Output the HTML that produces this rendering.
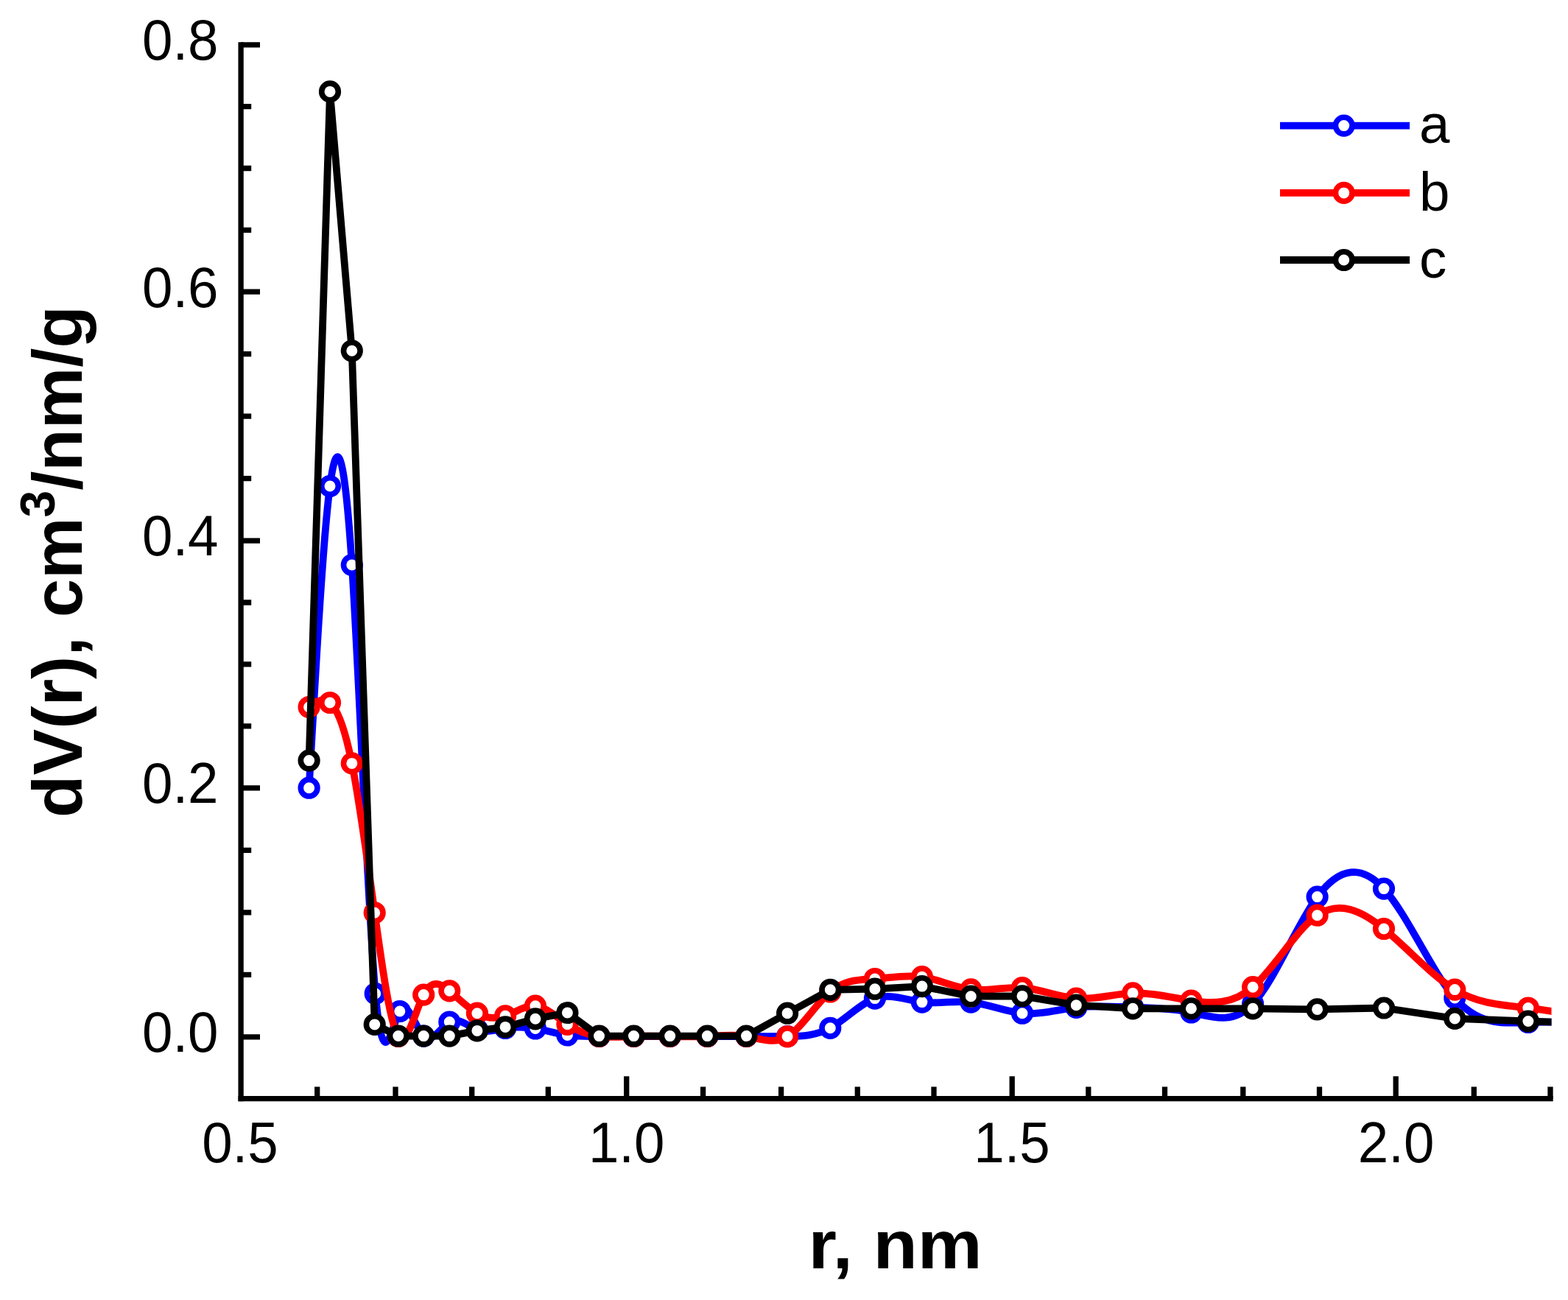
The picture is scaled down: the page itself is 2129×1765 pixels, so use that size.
<!DOCTYPE html>
<html lang="en"><head><meta charset="utf-8"><title>dV(r) vs r</title>
<style>
html,body{margin:0;padding:0;background:#fff;width:2129px;height:1765px;}
body{overflow:hidden;}
svg{display:block;}
text{font-family:"Liberation Sans",sans-serif;fill:#000;}
.tk{font-size:74.5px;}
.tt{font-size:94px;font-weight:bold;}
.ax{stroke:#000;stroke-width:7.3;fill:none;stroke-linecap:butt;}
.ln{fill:none;stroke-width:9.8;stroke-linejoin:round;stroke-linecap:butt;}
.mk{fill:#fff;stroke-width:7.6;}
</style></head><body>
<svg width="2129" height="1765" viewBox="0 0 2129 1765" role="img" aria-label="Pore size distribution dV(r) versus r for samples a, b and c">
<rect x="0" y="0" width="2129" height="1765" fill="#fff"/>
<defs><clipPath id="pc"><rect x="0" y="0" width="2106.5" height="1765"/></clipPath></defs>
<g id="series-a" stroke="#0000ff" clip-path="url(#pc)">
<path class="ln" d="M419.6 1069.7C429.1 901 438.5 732.2 448 660C457.9 584.2 467.9 614.8 477.8 767C488.4 930 499.1 1232.4 509.7 1349C520.7 1470 531.8 1391 542.8 1373C553.6 1355.3 564.4 1396.1 575.2 1406.6C586.9 1418 598.6 1394 610.3 1387.5C622.8 1380.5 635.4 1393.6 647.9 1398C660.6 1402.5 673.4 1398.1 686.1 1396C699.7 1393.8 713.3 1394.2 726.9 1396.5C741.4 1398.9 755.9 1403.4 770.4 1405.5C784.8 1407.5 799.1 1407.1 813.5 1407C829.2 1406.8 844.8 1407 860.5 1407C876.9 1407 893.3 1407 909.7 1407C926.6 1407 943.5 1407 960.4 1407C978.1 1407 995.8 1407 1013.5 1407C1032 1407 1050.6 1407.1 1069.1 1407C1088.5 1406.9 1107.9 1406.4 1127.3 1395.8C1147.5 1384.7 1167.7 1362.5 1187.9 1355.6C1209.2 1348.3 1230.6 1358 1251.9 1360.6C1274 1363.3 1296.2 1358.3 1318.3 1360.6C1341.5 1363.1 1364.8 1373.6 1388 1375.7C1412.4 1377.9 1436.9 1370.7 1461.3 1367.8C1486.9 1364.8 1512.5 1366.5 1538.1 1367.5C1564.5 1368.6 1591 1368.9 1617.4 1374.5C1645.3 1380.4 1673.2 1392.2 1701.1 1363C1730.3 1332.5 1759.4 1257.3 1788.6 1217.6C1818.7 1176.6 1848.9 1173.5 1879 1206.6C1911.1 1241.8 1943.2 1318.1 1975.3 1355C2008.5 1393.2 2041.7 1389.2 2074.9 1388C2109.3 1386.7 2143.6 1388.4 2178 1390"/>
<circle class="mk" cx="419.6" cy="1069.7" r="11.3"/>
<circle class="mk" cx="448" cy="660" r="11.3"/>
<circle class="mk" cx="477.8" cy="767" r="11.3"/>
<circle class="mk" cx="509.7" cy="1349" r="11.3"/>
<circle class="mk" cx="542.8" cy="1373" r="11.3"/>
<circle class="mk" cx="575.2" cy="1406.6" r="11.3"/>
<circle class="mk" cx="610.3" cy="1387.5" r="11.3"/>
<circle class="mk" cx="647.9" cy="1398" r="11.3"/>
<circle class="mk" cx="686.1" cy="1396" r="11.3"/>
<circle class="mk" cx="726.9" cy="1396.5" r="11.3"/>
<circle class="mk" cx="770.4" cy="1405.5" r="11.3"/>
<circle class="mk" cx="813.5" cy="1407" r="11.3"/>
<circle class="mk" cx="860.5" cy="1407" r="11.3"/>
<circle class="mk" cx="909.7" cy="1407" r="11.3"/>
<circle class="mk" cx="960.4" cy="1407" r="11.3"/>
<circle class="mk" cx="1013.5" cy="1407" r="11.3"/>
<circle class="mk" cx="1069.1" cy="1407" r="11.3"/>
<circle class="mk" cx="1127.3" cy="1395.8" r="11.3"/>
<circle class="mk" cx="1187.9" cy="1355.6" r="11.3"/>
<circle class="mk" cx="1251.9" cy="1360.6" r="11.3"/>
<circle class="mk" cx="1318.3" cy="1360.6" r="11.3"/>
<circle class="mk" cx="1388" cy="1375.7" r="11.3"/>
<circle class="mk" cx="1461.3" cy="1367.8" r="11.3"/>
<circle class="mk" cx="1538.1" cy="1367.5" r="11.3"/>
<circle class="mk" cx="1617.4" cy="1374.5" r="11.3"/>
<circle class="mk" cx="1701.1" cy="1363" r="11.3"/>
<circle class="mk" cx="1788.6" cy="1217.6" r="11.3"/>
<circle class="mk" cx="1879" cy="1206.6" r="11.3"/>
<circle class="mk" cx="1975.3" cy="1355" r="11.3"/>
<circle class="mk" cx="2074.9" cy="1388" r="11.3"/>
</g>
<g id="series-b" stroke="#ff0000" clip-path="url(#pc)">
<path class="ln" d="M419.6 960C429.1 953 438.5 946 448 954C457.9 962.4 467.9 987.2 477.8 1036.4C488.1 1087.4 498.4 1164.7 508.7 1239.3C519.4 1316.8 530.1 1391.4 540.8 1407C552.3 1423.7 563.7 1372.7 575.2 1350.6C586.9 1328 598.6 1335.5 610.3 1345.3C622.8 1355.7 635.4 1368.8 647.9 1375.7C660.6 1382.8 673.4 1383.5 686.1 1379.3C699.7 1374.8 713.3 1364.5 726.9 1365.7C741.4 1367 755.9 1381.2 770.4 1390.8C784.8 1400.3 799.1 1405.1 813.5 1407C829.2 1409.1 844.8 1407.6 860.5 1407C876.9 1406.4 893.3 1406.7 909.7 1407C926.6 1407.4 943.5 1407.8 960.4 1407C978.1 1406.2 995.8 1404.1 1013.5 1407C1032 1410 1050.6 1418.4 1069.1 1407.3C1088.5 1395.7 1107.9 1362.8 1127.3 1346.5C1147.5 1329.5 1167.7 1330.5 1187.9 1329C1209.2 1327.4 1230.6 1323.1 1251.9 1326.2C1274 1329.5 1296.2 1340.8 1318.3 1343.4C1341.5 1346.2 1364.8 1339.4 1388 1341C1412.4 1342.7 1436.9 1353.8 1461.3 1355.6C1486.9 1357.5 1512.5 1349.3 1538.1 1348.4C1564.5 1347.5 1591 1354.4 1617.4 1358.5C1645.3 1362.9 1673.2 1364.1 1701.1 1340.2C1730.3 1315.2 1759.4 1262.6 1788.6 1242.7C1818.7 1222.2 1848.9 1236.6 1879 1261C1911.1 1287 1943.2 1324.2 1975.3 1343.6C2008.5 1363.7 2041.7 1364.7 2074.9 1368.5C2109.3 1372.4 2143.6 1379.2 2178 1386"/>
<circle class="mk" cx="419.6" cy="960" r="11.3"/>
<circle class="mk" cx="448" cy="954" r="11.3"/>
<circle class="mk" cx="477.8" cy="1036.4" r="11.3"/>
<circle class="mk" cx="508.7" cy="1239.3" r="11.3"/>
<circle class="mk" cx="540.8" cy="1407" r="11.3"/>
<circle class="mk" cx="575.2" cy="1350.6" r="11.3"/>
<circle class="mk" cx="610.3" cy="1345.3" r="11.3"/>
<circle class="mk" cx="647.9" cy="1375.7" r="11.3"/>
<circle class="mk" cx="686.1" cy="1379.3" r="11.3"/>
<circle class="mk" cx="726.9" cy="1365.7" r="11.3"/>
<circle class="mk" cx="770.4" cy="1390.8" r="11.3"/>
<circle class="mk" cx="813.5" cy="1407" r="11.3"/>
<circle class="mk" cx="860.5" cy="1407" r="11.3"/>
<circle class="mk" cx="909.7" cy="1407" r="11.3"/>
<circle class="mk" cx="960.4" cy="1407" r="11.3"/>
<circle class="mk" cx="1013.5" cy="1407" r="11.3"/>
<circle class="mk" cx="1069.1" cy="1407.3" r="11.3"/>
<circle class="mk" cx="1127.3" cy="1346.5" r="11.3"/>
<circle class="mk" cx="1187.9" cy="1329" r="11.3"/>
<circle class="mk" cx="1251.9" cy="1326.2" r="11.3"/>
<circle class="mk" cx="1318.3" cy="1343.4" r="11.3"/>
<circle class="mk" cx="1388" cy="1341" r="11.3"/>
<circle class="mk" cx="1461.3" cy="1355.6" r="11.3"/>
<circle class="mk" cx="1538.1" cy="1348.4" r="11.3"/>
<circle class="mk" cx="1617.4" cy="1358.5" r="11.3"/>
<circle class="mk" cx="1701.1" cy="1340.2" r="11.3"/>
<circle class="mk" cx="1788.6" cy="1242.7" r="11.3"/>
<circle class="mk" cx="1879" cy="1261" r="11.3"/>
<circle class="mk" cx="1975.3" cy="1343.6" r="11.3"/>
<circle class="mk" cx="2074.9" cy="1368.5" r="11.3"/>
</g>
<g id="series-c" stroke="#000000" clip-path="url(#pc)">
<path class="ln" d="M419.6 1032.6L448 124.4L477.8 476.3L508.7 1390.9L540.8 1406.5L575.2 1406.6L610.3 1406.6L647.9 1399.4L686.1 1394.4L726.9 1383.3L770.4 1375L813.5 1406.6L860.5 1406.6L909.7 1406.6L960.4 1406.6L1013.5 1406.6L1069.1 1375.7L1127.3 1343.8L1187.9 1342.7L1251.9 1339.1L1318.3 1352.7L1388 1352.4L1461.3 1364.7L1538.1 1369.3L1617.4 1369.3L1701.1 1369.3L1788.6 1370.4L1879 1368.5L1975.3 1382.9L2074.9 1386.5L2178 1390"/>
<circle class="mk" cx="419.6" cy="1032.6" r="11.3"/>
<circle class="mk" cx="448" cy="124.4" r="11.3"/>
<circle class="mk" cx="477.8" cy="476.3" r="11.3"/>
<circle class="mk" cx="508.7" cy="1390.9" r="11.3"/>
<circle class="mk" cx="540.8" cy="1406.5" r="11.3"/>
<circle class="mk" cx="575.2" cy="1406.6" r="11.3"/>
<circle class="mk" cx="610.3" cy="1406.6" r="11.3"/>
<circle class="mk" cx="647.9" cy="1399.4" r="11.3"/>
<circle class="mk" cx="686.1" cy="1394.4" r="11.3"/>
<circle class="mk" cx="726.9" cy="1383.3" r="11.3"/>
<circle class="mk" cx="770.4" cy="1375" r="11.3"/>
<circle class="mk" cx="813.5" cy="1406.6" r="11.3"/>
<circle class="mk" cx="860.5" cy="1406.6" r="11.3"/>
<circle class="mk" cx="909.7" cy="1406.6" r="11.3"/>
<circle class="mk" cx="960.4" cy="1406.6" r="11.3"/>
<circle class="mk" cx="1013.5" cy="1406.6" r="11.3"/>
<circle class="mk" cx="1069.1" cy="1375.7" r="11.3"/>
<circle class="mk" cx="1127.3" cy="1343.8" r="11.3"/>
<circle class="mk" cx="1187.9" cy="1342.7" r="11.3"/>
<circle class="mk" cx="1251.9" cy="1339.1" r="11.3"/>
<circle class="mk" cx="1318.3" cy="1352.7" r="11.3"/>
<circle class="mk" cx="1388" cy="1352.4" r="11.3"/>
<circle class="mk" cx="1461.3" cy="1364.7" r="11.3"/>
<circle class="mk" cx="1538.1" cy="1369.3" r="11.3"/>
<circle class="mk" cx="1617.4" cy="1369.3" r="11.3"/>
<circle class="mk" cx="1701.1" cy="1369.3" r="11.3"/>
<circle class="mk" cx="1788.6" cy="1370.4" r="11.3"/>
<circle class="mk" cx="1879" cy="1368.5" r="11.3"/>
<circle class="mk" cx="1975.3" cy="1382.9" r="11.3"/>
<circle class="mk" cx="2074.9" cy="1386.5" r="11.3"/>
</g>
<g id="axes">
<path class="ax" d="M327.1 57.2 V1495.2"/>
<path class="ax" d="M323.5 1491.6 H2108.7"/>
<path class="ax" d="M327.1 1407.8H353M327.1 1323.3H341.2M327.1 1238.8H341.2M327.1 1154.3H341.2M327.1 1069.8H353M327.1 985.9H341.2M327.1 901.9H341.2M327.1 818H341.2M327.1 734.1H353M327.1 649.6H341.2M327.1 565.1H341.2M327.1 480.7H341.2M327.1 396.2H353M327.1 312.4H341.2M327.1 228.5H341.2M327.1 144.7H341.2M327.1 60.9H353"/>
<path class="ax" d="M430.7 1491.6V1475.4M537 1491.6V1475.4M640.7 1491.6V1475.4M744.3 1491.6V1475.4M850.7 1491.6V1461.2M954.6 1491.6V1475.4M1060.6 1491.6V1475.4M1164.3 1491.6V1475.4M1268 1491.6V1475.4M1374.2 1491.6V1461.2M1477.8 1491.6V1475.4M1581.5 1491.6V1475.4M1687.8 1491.6V1475.4M1791.5 1491.6V1475.4M1895.2 1491.6V1461.2M2001.3 1491.6V1475.4M2105 1491.6V1475.4"/>
</g>
<g id="ylabels" class="tk" text-anchor="end">
<text transform="translate(296.5 81.2) scale(1 1.05)">0.8</text>
<text transform="translate(296.5 416.5) scale(1 1.05)">0.6</text>
<text transform="translate(296.5 754.4) scale(1 1.05)">0.4</text>
<text transform="translate(296.5 1090.1) scale(1 1.05)">0.2</text>
<text transform="translate(296.5 1428.1) scale(1 1.05)">0.0</text>
</g>
<g id="xlabels" class="tk" text-anchor="middle">
<text transform="translate(325.9 1578.3) scale(1 1.05)">0.5</text>
<text transform="translate(850.7 1578.3) scale(1 1.05)">1.0</text>
<text transform="translate(1374 1578.3) scale(1 1.05)">1.5</text>
<text transform="translate(1895.6 1578.3) scale(1 1.05)">2.0</text>
</g>
<text class="tt" text-anchor="middle" transform="translate(1215.6 1721.8) scale(1.051 0.978)">r, nm</text>
<text class="tt" text-anchor="middle" transform="translate(110.8 762.5) rotate(-90)">dV(r), cm<tspan font-size="66" dy="-37">3</tspan><tspan dy="37">/nm/g</tspan></text>
<g id="legend">
<path class="ln" stroke="#0000ff" d="M1738 170.6 H1914"/>
<circle class="mk" stroke="#0000ff" cx="1824.7" cy="170.6" r="11.3"/>
<text class="tk" x="1927" y="194">a</text>
<path class="ln" stroke="#ff0000" d="M1738 261.9 H1914"/>
<circle class="mk" stroke="#ff0000" cx="1824.7" cy="261.9" r="11.3"/>
<text class="tk" x="1927" y="285.5">b</text>
<path class="ln" stroke="#000000" d="M1738 353 H1914"/>
<circle class="mk" stroke="#000000" cx="1824.7" cy="353" r="11.3"/>
<text class="tk" x="1927" y="377">c</text>
</g>
</svg>
</body></html>
